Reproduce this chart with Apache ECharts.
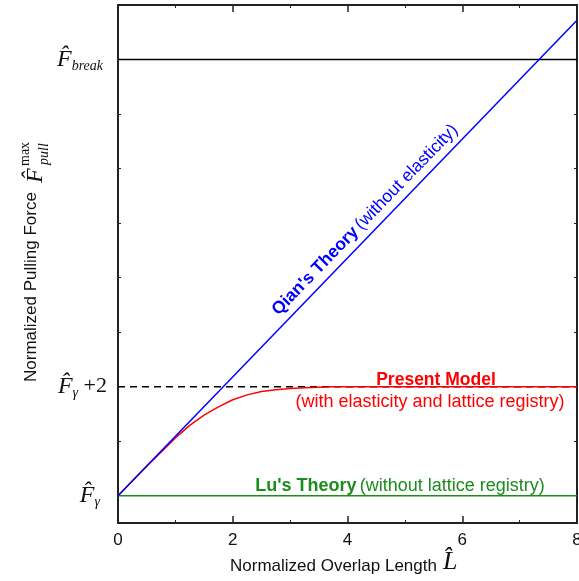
<!DOCTYPE html>
<html>
<head>
<meta charset="utf-8">
<script src="https://cdn.jsdelivr.net/npm/echarts@6/dist/echarts.min.js"></script>
<style>
html, body { margin: 0; padding: 0; background: #fff; }
#main { width: 579px; height: 581px; }
</style>
</head>
<body>
<div id="main"></div>
<script>
// data, in units of F_gamma offset (F_gamma = 0)
var qianX = [0, 8];
var qianY = [0, 8.72];
var modelX = [0, 0.25, 0.5, 0.75, 1, 1.25, 1.5, 1.75, 2, 2.25, 2.5, 2.75, 3, 3.25, 3.5, 3.75, 4, 5, 6, 7, 8];
var modelY = [0, 0.27, 0.54, 0.8, 1.06, 1.29, 1.48, 1.63, 1.76, 1.85, 1.91, 1.945, 1.965, 1.98, 1.99, 1.997, 2, 2, 2, 2, 2];
var luLevel = 0;      // F_gamma
var plusTwoLevel = 2; // F_gamma + 2
var breakLevel = 8;   // F_break
var xTicks = [0, 2, 4, 6, 8];
var yTicks = [1, 2, 3, 4, 5, 6, 7, 8];
var yLabelValues = [0, 2, 8];

var serif = '"Liberation Serif", "DejaVu Serif", serif';
var sans = '"Liberation Sans", Arial, sans-serif';

function pairs(xs, ys) {
	var out = [];
	for (var i = 0; i < xs.length; i++) out.push([xs[i], ys[i]]);
	return out;
}

var chart = echarts.init(document.getElementById('main'));

var xBase = {
	type: 'value',
	min: xTicks[0],
	max: xTicks[xTicks.length - 1],
	interval: 2,
	splitLine: { show: false },
	axisLine: { onZero: false, lineStyle: { color: '#222', width: 2 } },
	axisTick: { inside: true, length: 7, lineStyle: { color: '#222', width: 1.5 } },
	minorTick: { show: true, splitNumber: 2, length: 3, lineStyle: { color: '#222', width: 1 } },
	minorSplitLine: { show: false }
};

var yBase = {
	type: 'value',
	min: -0.5,
	max: 9,
	splitLine: { show: false },
	axisLine: { onZero: false, lineStyle: { color: '#222', width: 2 } },
	axisTick: { inside: true, length: 3, customValues: yTicks, lineStyle: { color: '#222', width: 1 } }
};

var option = {
	backgroundColor: '#fff',
	animation: false,
	grid: { left: 118, right: 2, top: 5, bottom: 58, outerBoundsMode: 'none', containLabel: false },
	xAxis: [
		echarts.util.merge({
			position: 'bottom',
			axisLabel: { margin: 9, color: '#111', fontFamily: sans, fontSize: 17 }
		}, xBase, true),
		echarts.util.merge({
			position: 'top',
			axisLabel: { show: false }
		}, xBase, true)
	],
	yAxis: [
		echarts.util.merge({
			position: 'left',
			axisLabel: {
				customValues: yLabelValues,
				margin: 11,
				formatter: function(v) {
					if (v === luLevel) return '{f|F\u0302}{s|\u03b3}{sp|}';
					if (v === plusTwoLevel) return '{f|F\u0302}{s|\u03b3}{n| +2}';
					return '{f|F\u0302}{s|break}{sp2|}';
				},
				rich: {
					f: { fontFamily: serif, fontStyle: 'italic', fontSize: 24, color: '#111' },
					s: { fontFamily: serif, fontStyle: 'italic', fontSize: 14, color: '#111', padding: [13, 0, 0, 0] },
					n: { fontFamily: serif, fontSize: 22, color: '#111' },
					sp: { width: 7 },
					sp2: { width: 4 }
				}
			}
		}, yBase, true),
		echarts.util.merge({
			position: 'right',
			axisLabel: { show: false }
		}, yBase, true)
	],
	series: [
		{
			name: 'break',
			type: 'line',
			data: pairs(qianX, [breakLevel, breakLevel]),
			symbol: 'none',
			lineStyle: { color: '#000', width: 1.5 }
		},
		{
			name: 'plus2',
			type: 'line',
			data: pairs(qianX, [plusTwoLevel, plusTwoLevel]),
			symbol: 'none',
			lineStyle: { color: '#000', width: 1.5, type: [7, 5] }
		},
		{
			name: 'Lu',
			type: 'line',
			data: pairs(qianX, [luLevel, luLevel]),
			symbol: 'none',
			lineStyle: { color: '#1c8c1c', width: 1.5 }
		},
		{
			name: 'Present Model',
			type: 'line',
			data: pairs(modelX, modelY),
			symbol: 'none',
			lineStyle: { color: '#ff0000', width: 1.5 }
		},
		{
			name: 'Qian',
			type: 'line',
			data: pairs(qianX, qianY),
			symbol: 'none',
			lineStyle: { color: '#0000ff', width: 1.5 },
			clip: true
		}
	],
	graphic: [
		// y axis title
		{
			type: 'group',
			x: 31,
			y: 382,
			rotation: Math.PI / 2,
			children: [
				{ type: 'text', x: 0, y: 0, style: { text: 'Normalized Pulling Force', font: '17px ' + sans, fill: '#111', verticalAlign: 'middle' } },
				{ type: 'text', x: 199, y: 5, style: { text: 'F\u0302', font: 'italic 24px ' + serif, fill: '#111', verticalAlign: 'middle' } },
				{ type: 'text', x: 216, y: -6, style: { text: 'max', font: '14px ' + serif, fill: '#111', verticalAlign: 'middle' } },
				{ type: 'text', x: 217, y: 13, style: { text: 'pull', font: 'italic 14px ' + serif, fill: '#111', verticalAlign: 'middle' } }
			]
		},
		// x axis title
		{ type: 'text', x: 230, y: 566, style: { text: 'Normalized Overlap Length', font: '17px ' + sans, fill: '#111', verticalAlign: 'middle' } },
		{ type: 'text', x: 443, y: 562, style: { text: 'L\u0302', font: 'italic 26px ' + serif, fill: '#111', verticalAlign: 'middle' } },
		// annotations
		{
			type: 'text', x: 365, y: 220, rotation: 0.80,
			style: {
				text: '{b|Qian\'s Theory} {r|(without elasticity)}',
				align: 'center', verticalAlign: 'middle',
				rich: {
					b: { font: 'bold 17.5px ' + sans, fill: '#0000ff' },
					r: { font: '17.5px ' + sans, fill: '#0000ff' }
				}
			}
		},
		{ type: 'text', x: 436, y: 380, style: { text: 'Present Model', font: 'bold 17.5px ' + sans, fill: '#ff0000', align: 'center', verticalAlign: 'middle' } },
		{ type: 'text', x: 430, y: 402, style: { text: '(with elasticity and lattice registry)', font: '18px ' + sans, fill: '#ff0000', align: 'center', verticalAlign: 'middle' } },
		{
			type: 'text', x: 400, y: 486,
			style: {
				text: '{b|Lu\'s Theory} {r|(without lattice registry)}',
				align: 'center', verticalAlign: 'middle',
				rich: {
					b: { font: 'bold 18px ' + sans, fill: '#1c8c1c' },
					r: { font: '18px ' + sans, fill: '#1c8c1c' }
				}
			}
		}
	]
};

chart.setOption(option);
</script>
</body>
</html>
